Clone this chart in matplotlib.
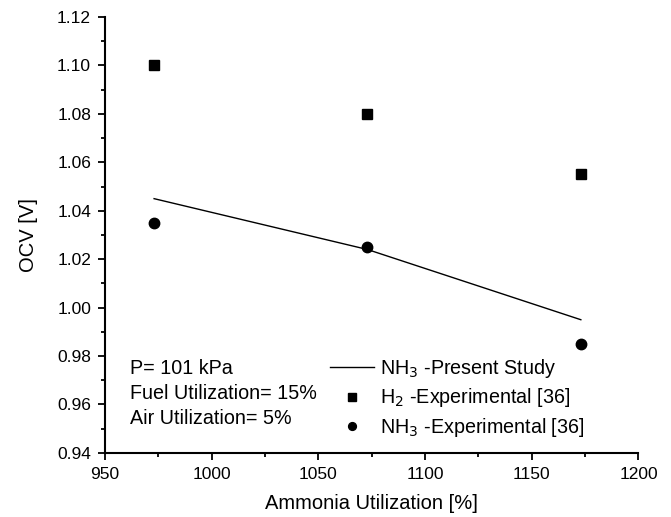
import matplotlib
matplotlib.use("Agg")
import matplotlib.pyplot as plt
from matplotlib.ticker import MultipleLocator

plt.rcParams['font.family'] = ['Liberation Sans', 'DejaVu Sans']

# Ammonia utilization [%] and open circuit voltage [V]
util = [973, 1073, 1173]
ocv_model = [1.045, 1.024, 0.995]
ocv_h2_exp = [1.100, 1.080, 1.055]
ocv_nh3_exp = [1.035, 1.025, 0.985]

fig = plt.figure(figsize=(6.71, 5.17), dpi=100)
ax = fig.add_axes([0.1565, 0.124, 0.795, 0.843])

ax.plot(util, ocv_model, color='black', lw=1.0, label='NH$_3$ -Present Study')
ax.plot(util, ocv_h2_exp, ls='none', marker='s', ms=7, color='black',
        label='H$_2$ -Experimental [36]')
ax.plot(util, ocv_nh3_exp, ls='none', marker='o', ms=7.5, color='black',
        label='NH$_3$ -Experimental [36]')

ax.set_xlim(950, 1200)
ax.set_ylim(0.94, 1.12)
ax.xaxis.set_major_locator(MultipleLocator(50))
ax.xaxis.set_minor_locator(MultipleLocator(25))
ax.yaxis.set_major_locator(MultipleLocator(0.02))
ax.yaxis.set_minor_locator(MultipleLocator(0.01))
ax.yaxis.set_major_formatter(plt.FormatStrFormatter('%.2f'))

for side in ('top', 'right'):
    ax.spines[side].set_visible(False)
for side in ('left', 'bottom'):
    ax.spines[side].set_linewidth(1.5)
ax.tick_params(which='major', direction='out', length=5, width=1.3,
               labelsize=12.5, pad=5)
ax.tick_params(which='minor', direction='out', length=3, width=1.3)

ax.set_xlabel('Ammonia Utilization [%]', fontsize=14.5, labelpad=9)
ax.set_ylabel('OCV [V]', fontsize=14.5, labelpad=14)

ax.text(0.047, 0.215, 'P= 101 kPa\nFuel Utilization= 15%\nAir Utilization= 5%',
        transform=ax.transAxes, fontsize=14.2, va='top', ha='left',
        linespacing=1.4)

leg = ax.legend(loc='lower right', bbox_to_anchor=(0.92, 0.004), frameon=False,
                fontsize=14.2, handlelength=2.2, handletextpad=0.3,
                labelspacing=0.35, markerscale=0.75, borderaxespad=0.2)

fig.savefig('out.png', dpi=100)
